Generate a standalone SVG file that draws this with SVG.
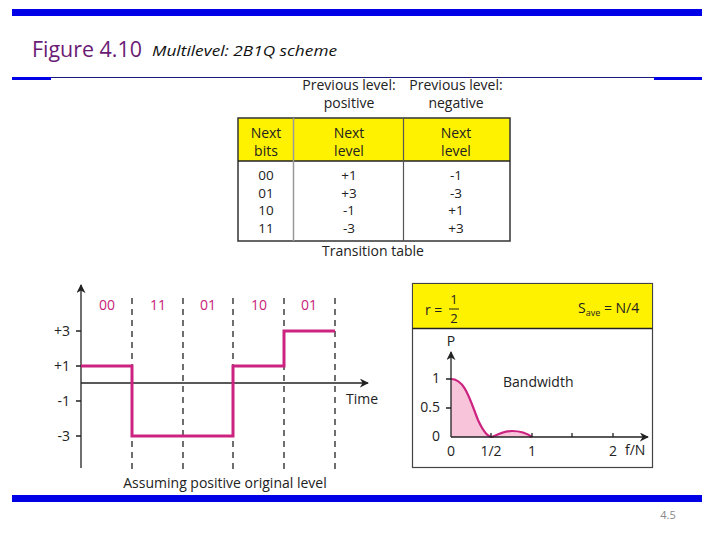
<svg xmlns="http://www.w3.org/2000/svg" width="720" height="540" viewBox="0 0 720 540">
<style>
text{font-family:"Open Sans","Liberation Sans",sans-serif;fill:#222}
.t{font-size:14px}
.r{font-size:13.5px}
.c{text-anchor:middle}
.e{text-anchor:end}
.m{fill:#C8237A}
.wave{fill:none;stroke:#CC2380;stroke-width:3}
.dash{stroke:#222;stroke-width:1.3;stroke-dasharray:6,5}
.ax{stroke:#222;stroke-width:1.3;fill:none}
</style>
<defs>
<marker id="ar" viewBox="0 0 10 10" refX="9" refY="5" markerWidth="9" markerHeight="9" markerUnits="userSpaceOnUse" orient="auto">
<path d="M0,0 L10,5 L0,10 L3,5 z" fill="#222"/>
</marker>
</defs>
<rect width="720" height="540" fill="#fff"/>
<!-- frame -->
<g id="frame">
<rect x="12" y="9" width="690" height="7" fill="#0000E6"/>
<line x1="12" y1="77.5" x2="702" y2="77.5" stroke="#1A1A80" stroke-width="1"/>
<rect x="12" y="77" width="39" height="3" fill="#0000E6"/>
<rect x="654" y="77" width="48" height="3" fill="#0000E6"/>
<rect x="12" y="495" width="690" height="7" fill="#0000E6"/>
<text x="32" y="57" style="font-size:21px;fill:#6A1B75" textLength="110" lengthAdjust="spacingAndGlyphs">Figure 4.10</text>
<text x="152" y="56" style="font-size:15px;font-style:italic;fill:#111" textLength="185" lengthAdjust="spacingAndGlyphs">Multilevel: 2B1Q scheme</text>
<text x="668" y="519" class="c" style="font-size:11px;fill:#888">4.5</text>
</g>
<!-- table -->
<g id="table">
<text x="349" y="90" class="t c">Previous level:</text>
<text x="349" y="108" class="t c">positive</text>
<text x="456" y="90" class="t c">Previous level:</text>
<text x="456" y="108" class="t c">negative</text>
<rect x="238" y="118" width="272" height="43" fill="#FFF200"/>
<rect x="238" y="118" width="272" height="123" fill="none" stroke="#333" stroke-width="1.5"/>
<line x1="238" y1="161" x2="510" y2="161" stroke="#222" stroke-width="1.5"/>
<line x1="293.5" y1="118" x2="293.5" y2="241" stroke="#999" stroke-width="1.5"/>
<line x1="403.5" y1="118" x2="403.5" y2="241" stroke="#555" stroke-width="1.2"/>
<text x="266" y="138" class="t c">Next</text>
<text x="266" y="156" class="t c">bits</text>
<text x="349" y="138" class="t c">Next</text>
<text x="349" y="156" class="t c">level</text>
<text x="456" y="138" class="t c">Next</text>
<text x="456" y="156" class="t c">level</text>
<text x="266" y="180" class="r c">00</text>
<text x="266" y="198" class="r c">01</text>
<text x="266" y="215" class="r c">10</text>
<text x="266" y="233" class="r c">11</text>
<text x="349" y="180" class="r c">+1</text>
<text x="349" y="198" class="r c">+3</text>
<text x="349" y="215" class="r c">-1</text>
<text x="349" y="233" class="r c">-3</text>
<text x="456" y="180" class="r c">-1</text>
<text x="456" y="198" class="r c">-3</text>
<text x="456" y="215" class="r c">+1</text>
<text x="456" y="233" class="r c">+3</text>
<text x="373" y="256" class="t c">Transition table</text>
</g>
<!-- waveform -->
<g id="waveform">
<line x1="81" y1="468" x2="81" y2="285" class="ax" marker-end="url(#ar)"/>
<line x1="81" y1="383" x2="368" y2="383" class="ax" marker-end="url(#ar)"/>
<path d="M76,331H81M76,366H81M76,401H81M76,436H81" class="ax"/>
<text x="70" y="336" class="t e">+3</text>
<text x="70" y="371" class="t e">+1</text>
<text x="70" y="406" class="t e">-1</text>
<text x="70" y="441" class="t e">-3</text>
<path d="M132,298V470M183,298V470M233,298V470M284,298V470M335,298V470" class="dash"/>
<text x="107" y="310" class="t c m">00</text>
<text x="158" y="310" class="t c m">11</text>
<text x="208" y="310" class="t c m">01</text>
<text x="259" y="310" class="t c m">10</text>
<text x="309" y="310" class="t c m">01</text>
<path d="M81,366H132V436H233V366H284V331H335" class="wave"/>
<text x="346" y="404" class="t">Time</text>
<text x="225" y="488" class="t c">Assuming positive original level</text>
</g>
<!-- spectrum -->
<g id="spectrum">
<rect x="412.5" y="283.5" width="240" height="184" fill="#fff" stroke="#444" stroke-width="1.2"/>
<rect x="413" y="284" width="239" height="44" fill="#FFF200"/>
<line x1="412.5" y1="328.5" x2="652.5" y2="328.5" stroke="#222" stroke-width="1.5"/>
<text x="425" y="315" class="t">r =</text>
<text x="454" y="304" class="c" style="font-size:13px">1</text>
<line x1="449" y1="309" x2="459" y2="309" stroke="#222" stroke-width="1"/>
<text x="454" y="323" class="c" style="font-size:13px">2</text>
<text x="578" y="313" class="t">S<tspan style="font-size:9px" dy="3">ave</tspan><tspan dy="-3"> = N/4</tspan></text>
<path d="M451,379 C465,379 470,400 478,420 C484,433 488,437 492,437 C500,433 506,431 512,431 C520,431 528,434 532,437 L451,437 Z" fill="#F7C4DA" stroke="none"/>
<path d="M451,379 C465,379 470,400 478,420 C484,433 488,437 492,437 C500,433 506,431 512,431 C520,431 528,434 532,437" class="wave" style="stroke-width:2.2"/>
<line x1="451" y1="437" x2="451" y2="352" class="ax" marker-end="url(#ar)"/>
<line x1="451" y1="437" x2="648" y2="437" class="ax" marker-end="url(#ar)"/>
<path d="M446,379H451M446,408H451M491,433V437M532,433V437M572,433V437M613,433V437" class="ax"/>
<text x="451" y="346" class="t c">P</text>
<text x="440" y="383" class="t e">1</text>
<text x="440" y="412" class="t e">0.5</text>
<text x="440" y="441" class="t e">0</text>
<text x="451" y="456" class="t c">0</text>
<text x="491" y="456" class="t c">1/2</text>
<text x="532" y="456" class="t c">1</text>
<text x="613" y="456" class="t c">2</text>
<text x="625" y="455" class="t">f/N</text>
<text x="503" y="387" class="t">Bandwidth</text>
</g>
</svg>
